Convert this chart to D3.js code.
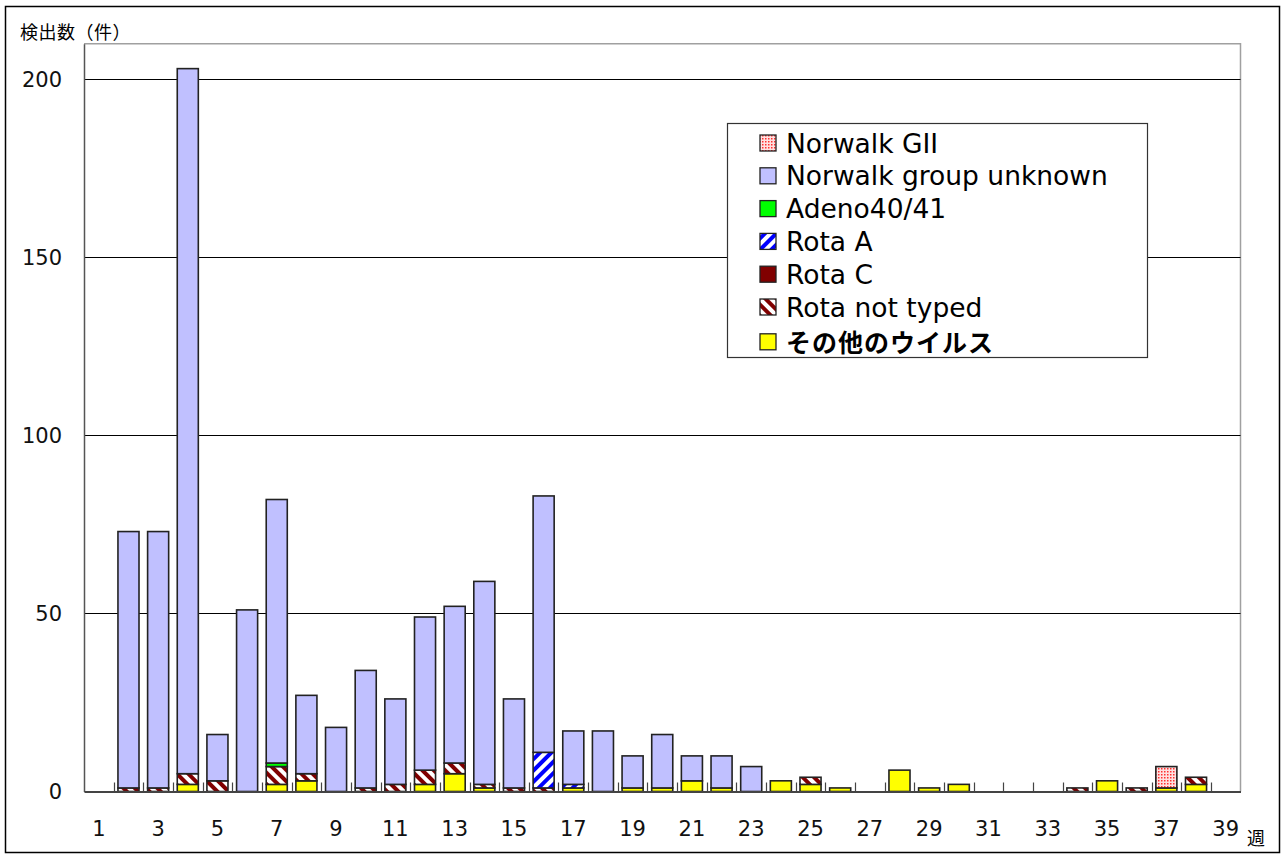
<!DOCTYPE html>
<html><head><meta charset="utf-8">
<script src="https://cdn.jsdelivr.net/npm/d3@7"></script>
<style>
html,body{margin:0;padding:0;background:#fff;}
svg{display:block;}
text{font-family:"DejaVu Sans",sans-serif;}
.jp{font-family:"Noto Sans CJK JP",sans-serif;}
</style></head>
<body>
<svg id="chart" width="1282" height="855"></svg>
<script>
const weeks = d3.range(1, 40);
const seriesNames = ["その他のウイルス","Rota not typed","Rota C","Rota A","Adeno40/41","Norwalk group unknown","Norwalk GII"];
// values per week 1..39
//                  1 2 3 4 5 6 7 8 9 10 11 12 13 14 15 16 17 18 19 20 21 22 23 24 25 26 27 28 29 30 31 32 33 34 35 36 37 38 39
const other     = [0,0,0,2,0,0,2,3,0,0, 0, 2, 5, 1, 0, 0, 1, 0, 1, 1, 3, 1, 0, 3, 2, 1, 0, 6, 1, 2, 0, 0, 0, 0, 3, 0, 1, 2, 0];
const rotaNT    = [0,1,1,3,3,0,5,2,0,1, 2, 4, 3, 1, 1, 1, 0, 0, 0, 0, 0, 0, 0, 0, 2, 0, 0, 0, 0, 0, 0, 0, 0, 1, 0, 1, 0, 2, 0];
const rotaC     = [0,0,0,0,0,0,0,0,0,0, 0, 0, 0, 0, 0, 0, 0, 0, 0, 0, 0, 0, 0, 0, 0, 0, 0, 0, 0, 0, 0, 0, 0, 0, 0, 0, 0, 0, 0];
const rotaA     = [0,0,0,0,0,0,0,0,0,0, 0, 0, 0, 0, 0,10, 1, 0, 0, 0, 0, 0, 0, 0, 0, 0, 0, 0, 0, 0, 0, 0, 0, 0, 0, 0, 0, 0, 0];
const adeno     = [0,0,0,0,0,0,1,0,0,0, 0, 0, 0, 0, 0, 0, 0, 0, 0, 0, 0, 0, 0, 0, 0, 0, 0, 0, 0, 0, 0, 0, 0, 0, 0, 0, 0, 0, 0];
const nwUnknown = [0,72,72,198,13,51,74,22,18,33,24,43,44,57,25,72,15,17,9,15,7,9, 7, 0, 0, 0, 0, 0, 0, 0, 0, 0, 0, 0, 0, 0, 0, 0, 0];
const nwGII     = [0,0,0,0,0,0,0,0,0,0, 0, 0, 0, 0, 0, 0, 0, 0, 0, 0, 0, 0, 0, 0, 0, 0, 0, 0, 0, 0, 0, 0, 0, 0, 0, 0, 6, 0, 0];
const yTicks = [0,50,100,150,200];
const xTickLabels = [1,3,5,7,9,11,13,15,17,19,21,23,25,27,29,31,33,35,37,39];
const legendOrder = ["Norwalk GII","Norwalk group unknown","Adeno40/41","Rota A","Rota C","Rota not typed","その他のウイルス"];

const seriesData = {"その他のウイルス":other,"Rota not typed":rotaNT,"Rota C":rotaC,"Rota A":rotaA,"Adeno40/41":adeno,"Norwalk group unknown":nwUnknown,"Norwalk GII":nwGII};
const fills = {"その他のウイルス":"#ffff00","Rota not typed":"url(#pRotaNT)","Rota C":"#800000","Rota A":"url(#pRotaA)","Adeno40/41":"#00ff00","Norwalk group unknown":"#c0c0ff","Norwalk GII":"url(#pGII)"};

const rows = weeks.map((w,i)=>{const r={week:w}; seriesNames.forEach(s=>r[s]=seriesData[s][i]); return r;});

const svg = d3.select("#chart");
const defs = svg.append("defs");
function stripes(id, color, angle){
  const p = defs.append("pattern").attr("id",id).attr("patternUnits","userSpaceOnUse")
    .attr("width",8).attr("height",8).attr("patternTransform",`rotate(${angle})`);
  p.append("rect").attr("width",8).attr("height",8).attr("fill","#fff");
  p.append("rect").attr("width",4).attr("height",8).attr("fill",color);
}
stripes("pRotaNT","#800000",-45);
stripes("pRotaA","#0000ff",45);
const g2 = defs.append("pattern").attr("id","pGII").attr("patternUnits","userSpaceOnUse").attr("width",3).attr("height",3);
g2.append("rect").attr("width",3).attr("height",3).attr("fill","#ffe0e0");
g2.append("rect").attr("width",1.5).attr("height",1.5).attr("fill","#ff3030");

// outer border
svg.append("rect").attr("x",5.5).attr("y",6.5).attr("width",1274).attr("height",846)
  .attr("fill","#fff").attr("stroke","#000").attr("stroke-width",1.5);

const pLeft = 84, pRight = 1240.5, pTop = 43.7, pBottom = 791.5;
const x = d3.scaleBand().domain(weeks).range([pLeft,pRight]).paddingInner(0.29).paddingOuter(0.145);
const y = d3.scaleLinear().domain([0,210]).range([pBottom, pTop]);

// plot area border
svg.append("path").attr("d",`M${pLeft},${pTop}H${pRight}V${pBottom}`).attr("fill","none")
  .attr("stroke","#a0a0a0").attr("stroke-width",1.5);

// gridlines
svg.append("g").selectAll("line").data(yTicks.filter(d=>d>0)).join("line")
  .attr("x1",pLeft).attr("x2",pRight).attr("y1",d=>Math.round(y(d))+0.5).attr("y2",d=>Math.round(y(d))+0.5)
  .attr("stroke","#000").attr("stroke-width",1);

// bars
const stacked = d3.stack().keys(seriesNames)(rows);
const barG = svg.append("g");
stacked.forEach(layer=>{
  barG.append("g").selectAll("rect").data(layer.filter(d=>d[1]-d[0]>0)).join("rect")
    .attr("x",d=>x(d.data.week)).attr("width",x.bandwidth())
    .attr("y",d=>y(d[1])).attr("height",d=>y(d[0])-y(d[1]))
    .attr("fill",fills[layer.key]).attr("stroke","#222").attr("stroke-width",1.6);
});

// y axis
const yAxis = svg.append("g").attr("transform",`translate(${pLeft},0)`)
  .call(d3.axisLeft(y).tickValues(yTicks).tickSize(0).tickPadding(22));
yAxis.select(".domain").attr("stroke","#555").attr("stroke-width",1.5);
yAxis.selectAll("text").attr("font-size",21).attr("font-family","DejaVu Sans").attr("fill","#111");

// x axis
const xAxis = svg.append("g").attr("transform",`translate(0,${pBottom})`)
  .call(d3.axisBottom(x).tickValues(xTickLabels).tickSize(0).tickPadding(30));
xAxis.select(".domain").attr("stroke","#444").attr("stroke-width",1.8);
xAxis.selectAll("text").attr("font-size",21).attr("font-family","DejaVu Sans").attr("fill","#111");
// inner tick marks at category boundaries
const bounds = weeks.map(w=>x(w)-x.step()*x.paddingInner()/2);
svg.append("g").selectAll("line").data(bounds.slice(1)).join("line")
  .attr("x1",d=>Math.round(d)+0.5).attr("x2",d=>Math.round(d)+0.5)
  .attr("y1",pBottom-9).attr("y2",pBottom).attr("stroke","#444").attr("stroke-width",1.2);

// axis titles
svg.append("text").attr("class","jp").attr("x",20).attr("y",39).attr("font-size",18).attr("letter-spacing",0.5).attr("fill","#000").text("検出数（件）");
svg.append("text").attr("class","jp").attr("x",1247).attr("y",845).attr("font-size",18).attr("fill","#000").text("週");

// legend
const lg = svg.append("g");
lg.append("rect").attr("x",727.5).attr("y",123.5).attr("width",420).attr("height",234)
  .attr("fill","#fff").attr("stroke","#333").attr("stroke-width",1.2);
legendOrder.forEach((name,i)=>{
  const isJp = name==="その他のウイルス";
  const cy = 143 + i*32.8 + (isJp ? 2 : 0);
  lg.append("rect").attr("x",760).attr("y",cy-8).attr("width",16).attr("height",16)
    .attr("fill",fills[name]).attr("stroke","#222").attr("stroke-width",1.3);
  const t = lg.append("text").attr("x",786).attr("y",cy+9.5).attr("fill","#000");
  if(isJp){
    t.attr("class","jp").attr("font-size",25).attr("font-weight","bold").attr("letter-spacing",1).attr("y",cy+10);
  } else {
    t.attr("font-size",26.5);
  }
  t.text(name);
});
</script>
</body></html>
